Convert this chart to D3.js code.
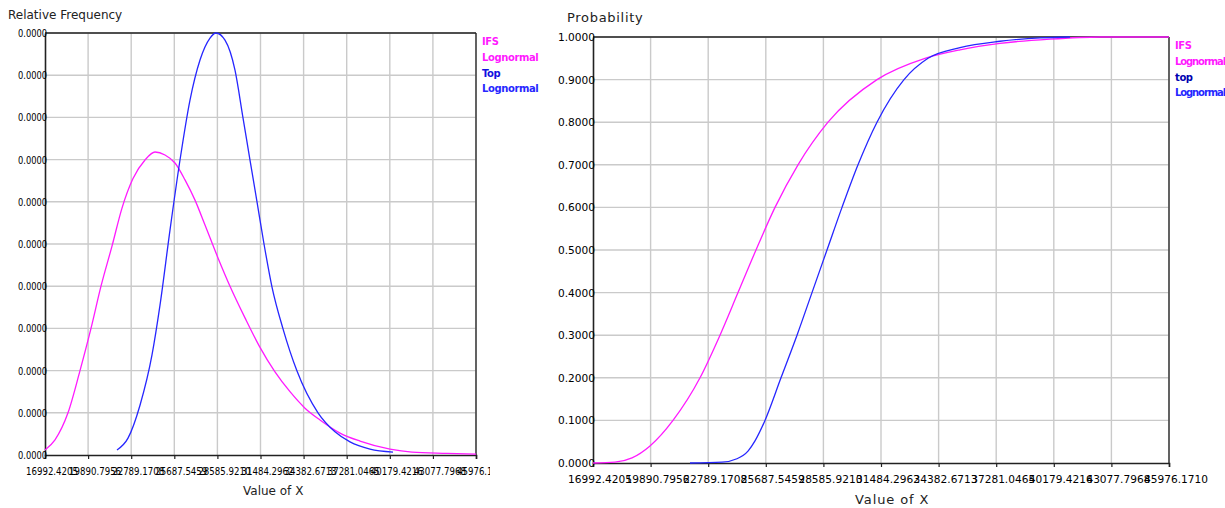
<!DOCTYPE html>
<html>
<head>
<meta charset="utf-8">
<script src="https://cdn.jsdelivr.net/npm/d3@7"></script>
<style>
  body { margin: 0; background: #fff; }
  svg { display: block; }
  text { font-family: "DejaVu Sans", sans-serif; fill: #000; }
</style>
</head>
<body>
<svg id="chart" width="1225" height="508"></svg>
<script>
// x tick values / labels (shared by both charts)
const xTicks = [16992.4205, 19890.7956, 22789.1708, 25687.5459, 28585.9210, 31484.2962,
  34382.6713, 37281.0465, 40179.4216, 43077.7968, 45976.1710];
const xTickLabels = ['16992.4205', '19890.7956', '22789.1708', '25687.5459', '28585.9210', '31484.2962',
  '34382.6713', '37281.0465', '40179.4216', '43077.7968', '45976.1710'];

// left: relative frequency (in units of 1e-4)
const freqTicks = [0, 0.1, 0.2, 0.3, 0.4, 0.5, 0.6, 0.7, 0.8, 0.9, 1.0];
const freqTickLabels = ['0.0000', '0.0000', '0.0000', '0.0000', '0.0000', '0.0000',
  '0.0000', '0.0000', '0.0000', '0.0000', '0.0000'];

const ifsX = [16992, 17665, 18539, 19346, 20086, 20758, 21498, 22170, 22910, 23717, 24390, 25062,
  25734, 26407, 27080, 27752, 28626, 29433, 30442, 31450, 32459, 33468, 34477, 35485, 36830,
  38175, 40193, 41672, 44026, 45976];
const ifsFreq = [0.012, 0.036, 0.1, 0.2, 0.3, 0.4, 0.495, 0.585, 0.655, 0.699, 0.718, 0.711,
  0.692, 0.652, 0.604, 0.545, 0.467, 0.400, 0.325, 0.255, 0.197, 0.150, 0.111, 0.083, 0.052,
  0.033, 0.014, 0.007, 0.004, 0.002];

const topX = [21834, 22574, 23381, 24188, 24726, 25398, 26071, 26743, 27416, 28088, 28492, 29097,
  29769, 30307, 30778, 31249, 31720, 32258, 32998, 33939, 35351, 36494, 37503, 38848, 40395];
const topFreq = [0.012, 0.040, 0.118, 0.237, 0.355, 0.533, 0.699, 0.841, 0.936, 0.988, 1.0, 0.983,
  0.912, 0.799, 0.699, 0.600, 0.5, 0.398, 0.299, 0.199, 0.1, 0.055, 0.031, 0.014, 0.007];

// right: cumulative probability
const probTicks = [0, 0.1, 0.2, 0.3, 0.4, 0.5, 0.6, 0.7, 0.8, 0.9, 1.0];
const probTickLabels = ['0.0000', '0.1000', '0.2000', '0.3000', '0.4000', '0.5000',
  '0.6000', '0.7000', '0.8000', '0.9000', '1.0000'];

const ifsCdfX = [16992, 18099, 18955, 19860, 21018, 22377, 23383, 24289, 25194, 26151, 27308, 28817,
  31283, 33699, 35460, 37472, 39989, 42505, 45976];
const ifsCdf = [0, 0.002, 0.012, 0.04, 0.1, 0.2, 0.3, 0.4, 0.5, 0.6, 0.7, 0.8,
  0.9, 0.95, 0.97, 0.985, 0.995, 1.0, 1.0];

const topCdfX = [21873, 23484, 24238, 24792, 25144, 25647, 26452, 27258, 28012, 28767, 29522, 30327,
  31283, 32642, 33850, 35460, 37472, 39486, 40996];
const topCdf = [0, 0.002, 0.01, 0.028, 0.052, 0.1, 0.2, 0.3, 0.4, 0.5, 0.6, 0.7,
  0.8, 0.9, 0.95, 0.975, 0.99, 0.998, 1.0];

const leftLegend = ['IFS', 'Lognormal', 'Top', 'Lognormal'];
const rightLegend = ['IFS', 'Lognormal', 'top', 'Lognormal'];

const PINK = '#ff1aff', BLUE = '#2626ff';

const svg = d3.select('#chart');
const defs = svg.append('defs');
defs.append('clipPath').attr('id', 'clipL').append('rect')
  .attr('x', 0).attr('y', 0).attr('width', 490).attr('height', 508);
defs.append('clipPath').attr('id', 'clipR').append('rect')
  .attr('x', 540).attr('y', 0).attr('width', 685).attr('height', 508);

function drawPanel(o) {
  const g = svg.append('g');
  const x = d3.scaleLinear().domain([xTicks[0], xTicks[xTicks.length - 1]]).range([o.left, o.right]);
  const y = d3.scaleLinear().domain([0, 1]).range([o.bottom, o.top]);

  // grid
  g.append('g').selectAll('line').data(xTicks.slice(1)).join('line')
    .attr('x1', d => x(d)).attr('x2', d => x(d)).attr('y1', o.top).attr('y2', o.bottom)
    .attr('stroke', '#cacaca').attr('stroke-width', 1.4);
  g.append('g').selectAll('line').data(o.yTicks.slice(1)).join('line')
    .attr('x1', o.left).attr('x2', o.right).attr('y1', d => y(d)).attr('y2', d => y(d))
    .attr('stroke', '#cacaca').attr('stroke-width', 1.4);

  // frame top / right
  g.append('line').attr('x1', o.left).attr('x2', o.right).attr('y1', o.top).attr('y2', o.top)
    .attr('stroke', '#222').attr('stroke-width', 1.3);
  g.append('line').attr('x1', o.right).attr('x2', o.right).attr('y1', o.top).attr('y2', o.bottom)
    .attr('stroke', '#222').attr('stroke-width', 1.3);

  // axes
  const xa = g.append('g').attr('transform', `translate(0,${o.bottom})`)
    .call(d3.axisBottom(x).tickValues(xTicks).tickSize(4).tickFormat(''));
  const ya = g.append('g').attr('transform', `translate(${o.left},0)`)
    .call(d3.axisLeft(y).tickValues(o.yTicks).tickSize(0).tickFormat(''));
  [xa, ya].forEach(a => {
    a.select('.domain').attr('stroke', '#222').attr('stroke-width', 1.6);
    a.selectAll('.tick line').attr('stroke', '#222').attr('stroke-width', 1.2);
  });

  // x tick labels (they run into each other in the original too)
  g.append('g').attr('clip-path', `url(#${o.clip})`).selectAll('text').data(xTicks).join('text')
    .attr('x', d => x(d) + 7).attr('y', o.bottom + 20)
    .attr('text-anchor', 'middle').attr('font-size', 10)
    .attr('textLength', o.xLabelLen).attr('lengthAdjust', 'spacingAndGlyphs')
    .text((d, i) => xTickLabels[i]);

  // y tick labels
  g.append('g').selectAll('text').data(o.yTicks).join('text')
    .attr('x', o.left + 2).attr('y', d => y(d) + 4)
    .attr('text-anchor', 'end').attr('font-size', 10)
    .attr('textLength', o.yLabelLen).attr('lengthAdjust', 'spacingAndGlyphs')
    .text((d, i) => o.yLabels[i]);

  // series
  const line = d3.line().x(d => x(d[0])).y(d => y(d[1])).curve(d3.curveMonotoneX);
  o.series.forEach(s => {
    g.append('path').datum(d3.zip(s.xs, s.ys))
      .attr('fill', 'none').attr('stroke', s.color).attr('stroke-width', 1.3)
      .attr('d', line);
  });

  // legend
  const lg = g.append('g').selectAll('text').data(o.legend).join('text')
    .attr('x', o.right + 6).attr('y', (d, i) => o.top + 12 + i * 15.8)
    .attr('font-family', 'Liberation Sans, Arial, sans-serif')
    .attr('font-size', 10).attr('font-weight', 'bold').attr('letter-spacing', -0.4)
    .style('fill', (d, i) => o.legendColors[i])
    .text(d => d);
  if (o.legendTight) {
    // not enough room at the right edge: pack the long entries tighter
    lg.filter(d => d.length > 6).attr('letter-spacing', -1.1);
  }

  // titles
  g.append('text').attr('x', o.titleX).attr('y', o.titleY)
    .attr('font-size', o.titleSize).attr('letter-spacing', o.titleSpacing)
    .style('fill', '#222').text(o.title);
  g.append('text').attr('x', o.xTitleX).attr('y', o.xTitleY)
    .attr('font-size', o.xTitleSize).attr('letter-spacing', o.xTitleSpacing)
    .style('fill', '#222').text('Value of X');
}

drawPanel({
  left: 45, right: 476, top: 33, bottom: 455, clip: 'clipL',
  yTicks: freqTicks, yLabels: freqTickLabels, xLabelLen: 52, yLabelLen: 29,
  series: [
    { xs: ifsX, ys: ifsFreq, color: PINK },
    { xs: topX, ys: topFreq, color: BLUE }
  ],
  legend: leftLegend, legendColors: [PINK, PINK, '#1010e0', BLUE],
  title: 'Relative Frequency', titleX: 8, titleY: 19, titleSize: 12, titleSpacing: 0,
  xTitleX: 243, xTitleY: 495, xTitleSize: 12, xTitleSpacing: 0
});

drawPanel({
  left: 593, right: 1169, top: 37, bottom: 463, clip: 'clipR',
  yTicks: probTicks, yLabels: probTickLabels, xLabelLen: 64, yLabelLen: 37,
  series: [
    { xs: ifsCdfX, ys: ifsCdf, color: PINK },
    { xs: topCdfX, ys: topCdf, color: BLUE }
  ],
  legend: rightLegend, legendColors: [PINK, PINK, '#0000b0', BLUE], legendTight: true,
  title: 'Probability', titleX: 567, titleY: 22, titleSize: 13, titleSpacing: 0.7,
  xTitleX: 855, xTitleY: 504, xTitleSize: 13, xTitleSpacing: 0.9
});
</script>
</body>
</html>
